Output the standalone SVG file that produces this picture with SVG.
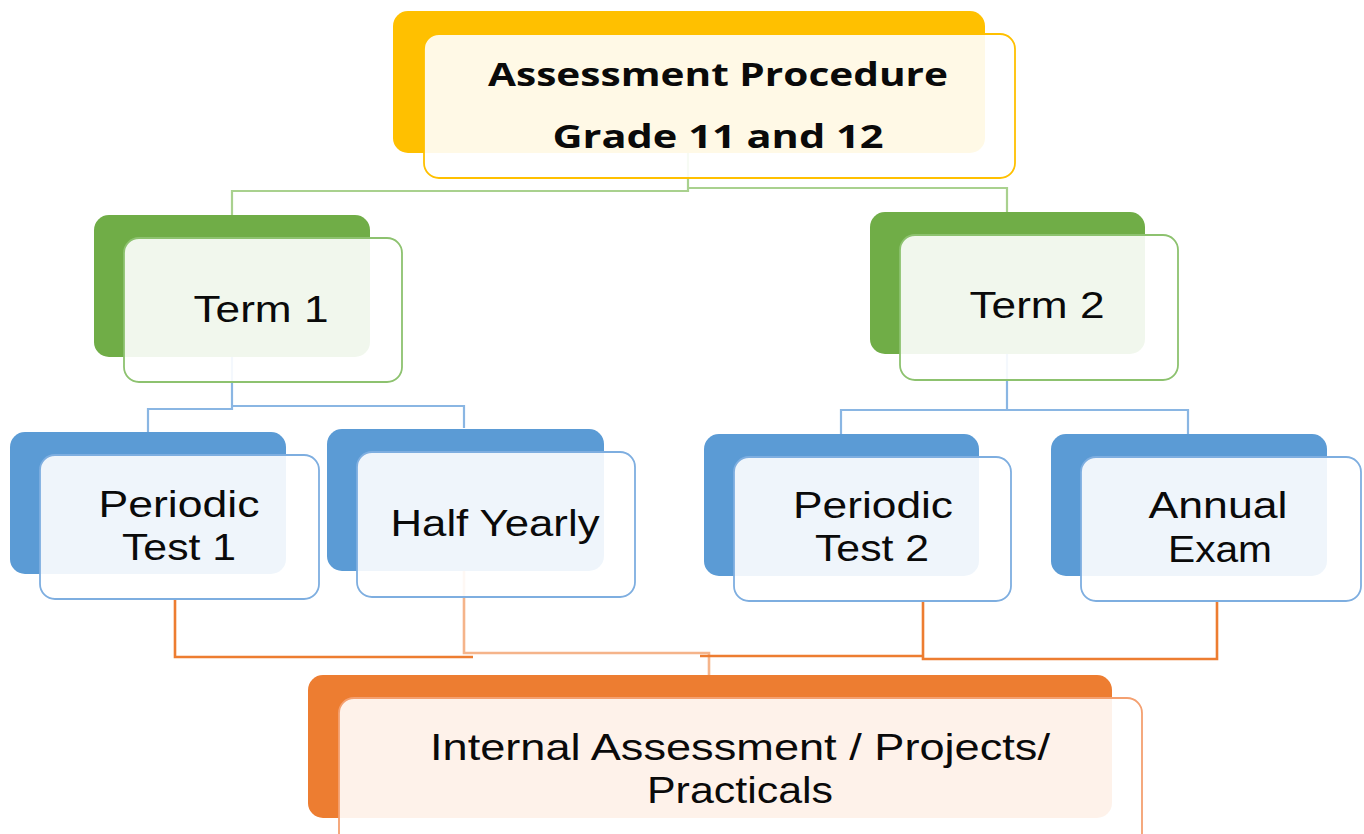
<svg xmlns="http://www.w3.org/2000/svg" width="1364" height="834" viewBox="0 0 1364 834">
<style>
.bg{fill:#ffffff}
.front{fill:#ffffff;fill-opacity:0.9;stroke-width:1.8}
.yb{fill:#FFC000}.yf{stroke:#FFC000}
.gb{fill:#70AD47}.gf{stroke:#8DC26F}
.bb{fill:#5B9BD5}.bf{stroke:#7EAEE0}
.ob{fill:#ED7D31}.of{stroke:#F4A070}
.t{font-family:"Liberation Sans","Open Sans",sans-serif;font-size:37px;fill:#0a0a0a;text-anchor:middle}
.tb{font-family:"Open Sans","Liberation Sans",sans-serif;font-weight:bold;font-size:33px}
.cg{fill:none;stroke:#A9D18E;stroke-width:2.2}
.cb{fill:none;stroke:#8AB6E3;stroke-width:2.2}
.co{fill:none;stroke:#ED7D31;stroke-width:2.6}
.col{fill:none;stroke:#F5B48A;stroke-width:2.6}
</style>
<rect class="bg" x="0" y="0" width="1364" height="834"/>
<g id="connectors">
  <polyline class="cg" points="688,153 688,191 232,191 232,215"/>
  <polyline class="cg" points="688,188 1007,188 1007,212"/>
  <polyline class="cb" points="232,357 232,409 148,409 148,432"/>
  <polyline class="cb" points="232,406 464,406 464,428"/>
  <polyline class="cb" points="1007,354 1007,410 841,410 841,434"/>
  <polyline class="cb" points="1007,410 1188,410 1188,434"/>
  <polyline class="co" points="175,599 175,657 473,657"/>
  <polyline class="col" points="464,571 464,653 709,653 709,675"/>
  <polyline class="co" points="700,656 922,656"/>
  <polyline class="co" points="923,601 923,659 1217,659 1217,601"/>
</g>
<g id="node-top">
  <rect class="yb" x="393" y="11" width="592" height="142" rx="15"/>
  <rect class="front yf" x="424" y="34" width="591" height="144" rx="15"/>
  <text class="t tb" x="718" y="86" textLength="460" lengthAdjust="spacingAndGlyphs">Assessment Procedure</text>
  <text class="t tb" x="718" y="148" textLength="331" lengthAdjust="spacingAndGlyphs">Grade 11 and 12</text>
</g>
<g id="node-term1">
  <rect class="gb" x="94" y="215" width="276" height="142" rx="15"/>
  <rect class="front gf" x="124" y="238" width="278" height="144" rx="15"/>
  <text class="t" x="261" y="322" textLength="135" lengthAdjust="spacingAndGlyphs">Term 1</text>
</g>
<g id="node-term2">
  <rect class="gb" x="870" y="212" width="275" height="142" rx="15"/>
  <rect class="front gf" x="900" y="235" width="278" height="145" rx="15"/>
  <text class="t" x="1037" y="318" textLength="135" lengthAdjust="spacingAndGlyphs">Term 2</text>
</g>
<g id="node-pt1">
  <rect class="bb" x="10" y="432" width="276" height="142" rx="15"/>
  <rect class="front bf" x="40" y="455" width="279" height="144" rx="15"/>
  <text class="t" x="179" y="517" textLength="161" lengthAdjust="spacingAndGlyphs">Periodic</text>
  <text class="t" x="179" y="560" textLength="114" lengthAdjust="spacingAndGlyphs">Test 1</text>
</g>
<g id="node-halfyearly">
  <rect class="bb" x="327" y="429" width="277" height="142" rx="15"/>
  <rect class="front bf" x="357" y="452" width="278" height="145" rx="15"/>
  <text class="t" x="495" y="536" textLength="209" lengthAdjust="spacingAndGlyphs">Half Yearly</text>
</g>
<g id="node-pt2">
  <rect class="bb" x="704" y="434" width="275" height="142" rx="15"/>
  <rect class="front bf" x="734" y="457" width="277" height="144" rx="15"/>
  <text class="t" x="873" y="518" textLength="160" lengthAdjust="spacingAndGlyphs">Periodic</text>
  <text class="t" x="872" y="561" textLength="114" lengthAdjust="spacingAndGlyphs">Test 2</text>
</g>
<g id="node-annual">
  <rect class="bb" x="1051" y="434" width="276" height="142" rx="15"/>
  <rect class="front bf" x="1081" y="457" width="280" height="144" rx="15"/>
  <text class="t" x="1218" y="518" textLength="139" lengthAdjust="spacingAndGlyphs">Annual</text>
  <text class="t" x="1220" y="562" textLength="104" lengthAdjust="spacingAndGlyphs">Exam</text>
</g>
<g id="node-internal">
  <rect class="ob" x="308" y="675" width="804" height="143" rx="15"/>
  <rect class="front of" x="339" y="698" width="803" height="150" rx="15"/>
  <text class="t" x="740" y="760" textLength="620" lengthAdjust="spacingAndGlyphs">Internal Assessment / Projects/</text>
  <text class="t" x="740" y="803" textLength="186" lengthAdjust="spacingAndGlyphs">Practicals</text>
</g>
</svg>
